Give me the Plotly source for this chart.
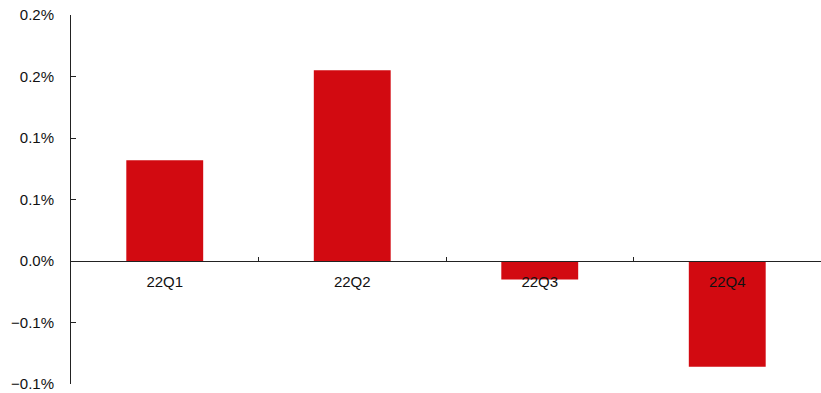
import plotly.graph_objects as go

# Quarterly change, in percent
quarters = ["22Q1", "22Q2", "22Q3", "22Q4"]
values = [0.082, 0.155, -0.015, -0.086]

# Y-axis ticks (percent) and their one-decimal labels
y_tickvals = [-0.10, -0.05, 0.00, 0.05, 0.10, 0.15, 0.20]
y_ticktext = ["−0.1%", "−0.1%", "0.0%", "0.1%", "0.1%", "0.2%", "0.2%"]

bar_color = "#d20a11"
axis_color = "#222222"
font_family = "Liberation Sans, Arial, sans-serif"

fig = go.Figure(
    go.Bar(
        x=quarters,
        y=values,
        marker=dict(color=bar_color, line=dict(width=0)),
        hoverinfo="x+y",
    )
)

y_min, y_max = -0.10, 0.20

fig.update_layout(
    width=821,
    height=393,
    margin=dict(l=71, r=0, t=15, b=9),
    paper_bgcolor="white",
    plot_bgcolor="white",
    bargap=0.59,
    showlegend=False,
    font=dict(family=font_family, color="#111111", size=14),
    xaxis=dict(
        type="category",
        anchor="free",
        position=(0 - y_min) / (y_max - y_min),
        showline=True,
        linecolor=axis_color,
        linewidth=1,
        ticks="inside",
        tickson="boundaries",
        ticklen=4,
        tickcolor=axis_color,
        showgrid=False,
        zeroline=False,
        tickfont=dict(size=15, color="#111111"),
        ticklabelstandoff=7,
        layer="above traces",
    ),
    yaxis=dict(
        range=[y_min, y_max],
        tickmode="array",
        tickvals=y_tickvals,
        ticktext=y_ticktext,
        showline=True,
        linecolor=axis_color,
        linewidth=1,
        ticks="inside",
        ticklen=5,
        tickcolor=axis_color,
        showgrid=False,
        zeroline=False,
        tickfont=dict(size=15, color="#111111"),
        ticklabelstandoff=13,
    ),
)

fig.write_html("out.html")
